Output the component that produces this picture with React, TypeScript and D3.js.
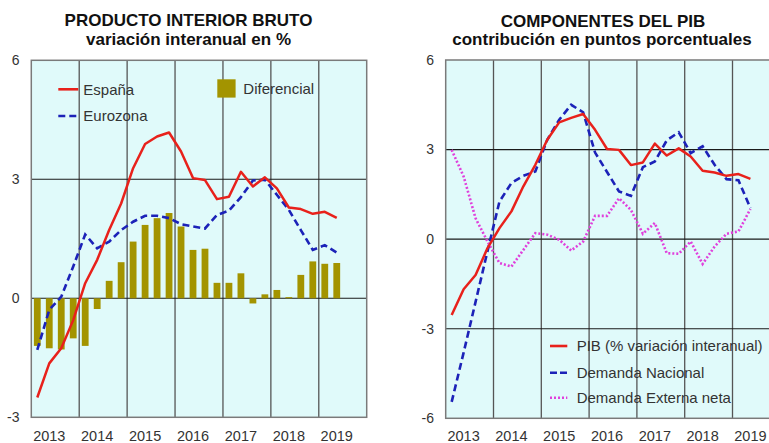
import React from "react";
import * as d3 from "d3";

const years = ["2013", "2014", "2015", "2016", "2017", "2018", "2019"];

// Left chart (quarterly, 2013Q1 - 2019Q2)
const espana = [-2.5, -1.64, -1.26, -0.55, 0.38, 0.97, 1.72, 2.39, 3.28, 3.89, 4.08, 4.18, 3.7, 3.03, 2.98, 2.5, 2.56, 3.19, 2.82, 3.05, 2.77, 2.29, 2.25, 2.13, 2.18, 2.03];
const eurozona = [-1.3, -0.29, 0.04, 0.8, 1.61, 1.26, 1.43, 1.72, 1.93, 2.08, 2.08, 2.02, 1.87, 1.81, 1.76, 2.1, 2.21, 2.55, 2.97, 2.99, 2.61, 2.23, 1.72, 1.22, 1.34, 1.15];
const diferencial = [-1.2, -1.26, -1.29, -1.01, -1.2, -0.27, 0.44, 0.91, 1.43, 1.85, 2.02, 2.15, 1.81, 1.22, 1.25, 0.39, 0.39, 0.63, -0.13, 0.1, 0.21, 0.03, 0.59, 0.93, 0.87, 0.89];

// Right chart
const pib = [-2.54, -1.68, -1.2, -0.3, 0.37, 0.93, 1.77, 2.49, 3.33, 3.91, 4.06, 4.19, 3.66, 3.02, 2.99, 2.48, 2.57, 3.2, 2.8, 3.04, 2.77, 2.29, 2.23, 2.12, 2.18, 2.02];
const demandaNacional = [-5.45, -3.8, -2.1, -0.4, 1.26, 1.88, 2.12, 2.27, 3.33, 4.0, 4.5, 4.25, 2.9, 2.25, 1.6, 1.45, 2.41, 2.6, 3.31, 3.58, 2.88, 3.11, 2.49, 2.01, 1.97, 1.04];
const demandaExterna = [2.99, 2.1, 0.7, -0.08, -0.8, -0.92, -0.36, 0.2, 0.15, -0.02, -0.38, -0.08, 0.78, 0.78, 1.37, 0.98, 0.18, 0.54, -0.47, -0.49, -0.08, -0.83, -0.25, 0.18, 0.26, 1.01];

const leftTicks = [6, 3, 0, -3];
const rightTicks = [6, 3, 0, -3, -6];

const FONT = "'Liberation Sans', Arial, Helvetica, sans-serif";
const BG = "#e0fafa";
const RED = "#e8211b";
const BLUE = "#1c22b8";
const MAGENTA = "#e040dc";
const OLIVE = "#a39400";
const TXT = "#333";

function Frame({ x, y, gridY }: any) {
  const [x0, x1] = x.range();
  const [y0, y1] = y.range();
  return (
    <g>
      <rect x={x0} y={y1} width={x1 - x0} height={y0 - y1} fill={BG} />
      {d3.range(4, 28, 4).map((q) => (
        <line key={q} x1={x(q)} x2={x(q)} y1={y1} y2={y0} stroke="#555" strokeWidth={1.3} />
      ))}
      {gridY.map((v: number) => (
        <line key={v} x1={x0} x2={x1} y1={y(v)} y2={y(v)} stroke="#1a1a1a" strokeWidth={1.1} />
      ))}
    </g>
  );
}

function Border({ x, y }: any) {
  const [x0, x1] = x.range();
  const [y0, y1] = y.range();
  return <rect x={x0} y={y1} width={x1 - x0} height={y0 - y1} fill="none" stroke="#7a7a7a" strokeWidth={1.5} />;
}

function Axes({ x, y, ticks, labelX }: any) {
  return (
    <g fontFamily={FONT} fill={TXT}>
      {ticks.map((v: number) => (
        <text key={v} x={labelX} y={y(v)} dy="0.35em" textAnchor="end" fontSize={14}>
          {v}
        </text>
      ))}
      {years.map((yr, k) => (
        <text key={yr} x={x(4 * k + 1.5)} y={441} textAnchor="middle" fontSize={14.5}>
          {yr}
        </text>
      ))}
    </g>
  );
}

export default function App() {
  const xL = d3.scaleLinear().domain([0, 28]).range([31.3, 366.7]);
  const yL = d3.scaleLinear().domain([-3, 6]).range([417.3, 60.3]);
  const xR = d3.scaleLinear().domain([0, 28]).range([445.7, 780.3]);
  const yR = d3.scaleLinear().domain([-6, 6]).range([418.3, 60]);

  const lineL = (data: number[]) =>
    d3.line<number>().x((_, i) => xL(i + 0.5)).y((d) => yL(d))(data) as string;
  const lineR = (data: number[]) =>
    d3.line<number>().x((_, i) => xR(i + 0.5)).y((d) => yR(d))(data) as string;

  const barW = 6.8;

  return (
    <svg width={769} height={443} style={{ position: "absolute", left: 0, top: 0, background: "#fff" }}>
      {/* Titles */}
      <g fontFamily={FONT} fontWeight="bold" fill="#111" textAnchor="middle" fontSize={17}>
        <text x={188.5} y={26}>PRODUCTO INTERIOR BRUTO</text>
        <text x={188.5} y={45}>variación interanual en %</text>
        <text x={603} y={26.5}>COMPONENTES DEL PIB</text>
        <text x={602} y={45}>contribución en puntos porcentuales</text>
      </g>

      {/* Left chart */}
      <Frame x={xL} y={yL} gridY={[3, 0]} />
      {diferencial.map((d, i) => (
        <rect
          key={i}
          x={xL(i + 0.5) - barW / 2}
          y={Math.min(yL(d), yL(0))}
          width={barW}
          height={Math.abs(yL(d) - yL(0))}
          fill={OLIVE}
        />
      ))}
      <path d={lineL(eurozona)} fill="none" stroke={BLUE} strokeWidth={2.6} strokeDasharray="7,4" />
      <path d={lineL(espana)} fill="none" stroke={RED} strokeWidth={2.5} strokeLinejoin="round" />
      <Border x={xL} y={yL} />
      <Axes x={xL} y={yL} ticks={leftTicks} labelX={19.5} />

      {/* Left legend */}
      <g fontFamily={FONT} fontSize={15} fill={TXT}>
        <line x1={58.3} x2={78.3} y1={89.3} y2={89.3} stroke={RED} strokeWidth={2.6} />
        <text x={83.3} y={89.3} dy="0.35em">España</text>
        <line x1={58.3} x2={78.3} y1={116} y2={116} stroke={BLUE} strokeWidth={2.6} strokeDasharray="7,4" />
        <text x={83.3} y={116} dy="0.35em">Eurozona</text>
        <rect x={217.3} y={79.3} width={18.3} height={18.3} fill={OLIVE} />
        <text x={243.3} y={89} dy="0.35em">Diferencial</text>
      </g>

      {/* Right chart */}
      <Frame x={xR} y={yR} gridY={[3, 0, -3]} />
      <path d={lineR(demandaExterna)} fill="none" stroke={MAGENTA} strokeWidth={2.6} strokeDasharray="2,2" />
      <path d={lineR(demandaNacional)} fill="none" stroke={BLUE} strokeWidth={2.6} strokeDasharray="7,4" />
      <path d={lineR(pib)} fill="none" stroke={RED} strokeWidth={2.5} strokeLinejoin="round" />
      <Border x={xR} y={yR} />
      <Axes x={xR} y={yR} ticks={rightTicks} labelX={434} />

      {/* Right legend */}
      <g fontFamily={FONT} fontSize={15} fill={TXT}>
        <line x1={550} x2={567.3} y1={346} y2={346} stroke={RED} strokeWidth={2.6} />
        <text x={576.7} y={346} dy="0.35em">PIB (% variación interanual)</text>
        <line x1={550} x2={567.3} y1={372.7} y2={372.7} stroke={BLUE} strokeWidth={2.6} strokeDasharray="7,3" />
        <text x={576.7} y={372.7} dy="0.35em">Demanda Nacional</text>
        <line x1={550} x2={567.3} y1={397.7} y2={397.7} stroke={MAGENTA} strokeWidth={2.6} strokeDasharray="2,2" />
        <text x={576.7} y={397.7} dy="0.35em">Demanda Externa neta</text>
      </g>
    </svg>
  );
}
